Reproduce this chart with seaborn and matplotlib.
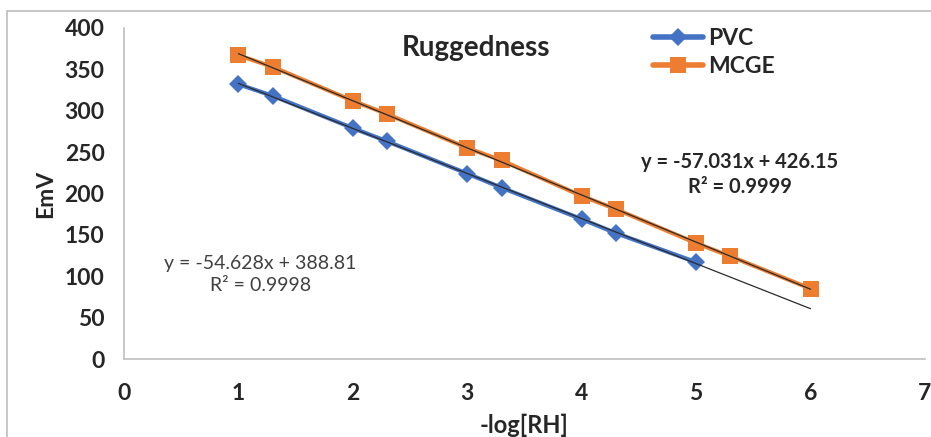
import matplotlib
matplotlib.use("Agg")
import matplotlib.pyplot as plt
import seaborn as sns
import numpy as np
import pandas as pd
from matplotlib.patches import Rectangle

pvc_x = [1, 1.3, 2, 2.3, 3, 3.3, 4, 4.3, 5]
pvc_y = [332, 318, 279, 263, 224, 207, 169, 152, 117]
mcge_x = [1, 1.3, 2, 2.3, 3, 3.3, 4, 4.3, 5, 5.3, 6]
mcge_y = [367, 353, 312, 296, 255, 240, 197, 181, 140, 124, 85]
x_ticks = [0, 1, 2, 3, 4, 5, 6, 7]
y_ticks = [0, 50, 100, 150, 200, 250, 300, 350, 400]

sns.set_theme(style="white")
plt.rcParams['font.family'] = ['Lato', 'DejaVu Sans']

BLUE = "#4472C4"
ORANGE = "#ED7D31"
GREY = "#BFBFBF"

fig = plt.figure(figsize=(9.31, 4.37), dpi=100)
fig.patches.append(Rectangle((7/931, -0.05), 1.2, 1 - 11/437 + 0.05, transform=fig.transFigure,
                             fill=False, edgecolor="#BDBDBD", linewidth=1.2))
ax = fig.add_axes([124/931, 1 - 359/437, (925 - 124)/931, (359 - 28)/437])

df = pd.concat([
    pd.DataFrame({"x": pvc_x, "y": pvc_y, "s": "PVC"}),
    pd.DataFrame({"x": mcge_x, "y": mcge_y, "s": "MCGE"}),
])
sns.lineplot(data=df, x="x", y="y", hue="s", style="s",
             palette={"PVC": BLUE, "MCGE": ORANGE},
             markers={"PVC": "D", "MCGE": "s"}, dashes=False,
             markersize=12, markeredgewidth=0, linewidth=3, ax=ax, sort=False)
for ln in ax.lines:
    if ln.get_marker() == "D":
        ln.set_markersize(9)

# trendlines (PVC forecast forward to 6)
xs = np.array([1, 6])
for xv, yv in [(pvc_x, pvc_y), (mcge_x, mcge_y)]:
    m, b = np.polyfit(xv, yv, 1)
    ax.plot(xs, m * xs + b, color="#2b2b2b", linewidth=0.9, zorder=5)

ax.set_xlim(0, 7)
ax.set_ylim(0, 400)
ax.set_xticks(x_ticks)
ax.set_yticks(y_ticks)
for lab in ax.get_xticklabels() + ax.get_yticklabels():
    lab.set_fontweight("bold")
    lab.set_fontsize(16.5)
ax.tick_params(axis="both", which="both", length=7, width=1, color=GREY, direction="out", pad=7)
ax.tick_params(axis="x", pad=10)
for sp in ["top", "right"]:
    ax.spines[sp].set_visible(False)
for sp in ["left", "bottom"]:
    ax.spines[sp].set_color(GREY)
    ax.spines[sp].set_linewidth(1.2)

ax.set_xlabel("-log[RH]", fontsize=17, fontweight="bold", labelpad=7)
ax.set_ylabel("EmV", fontsize=16.5, fontweight="bold", labelpad=6)

ax.text(3.08, 376, "Ruggedness", fontsize=20, fontweight="bold", ha="center", va="center")
ax.text(5.38, 223, "y = -57.031x + 426.15\nR² = 0.9999", fontsize=14.5, fontweight="bold",
        ha="center", va="center", linespacing=1.3)
ax.text(1.19, 102, "y = -54.628x + 388.81\nR² = 0.9998", fontsize=14, ha="center",
        va="center", linespacing=1.3, color="#404040")

leg = ax.legend(loc="center left", bbox_to_anchor=(653/931, 1 - 52.5/437),
                bbox_transform=fig.transFigure, frameon=False,
                fontsize=16.5, handlelength=2.2, handletextpad=0.2, labelspacing=0.3,
                borderaxespad=0, borderpad=0)
for t in leg.get_texts():
    t.set_fontweight("bold")
for h in leg.legend_handles:
    h.set_linewidth(4)

fig.savefig("out.png", dpi=100)
